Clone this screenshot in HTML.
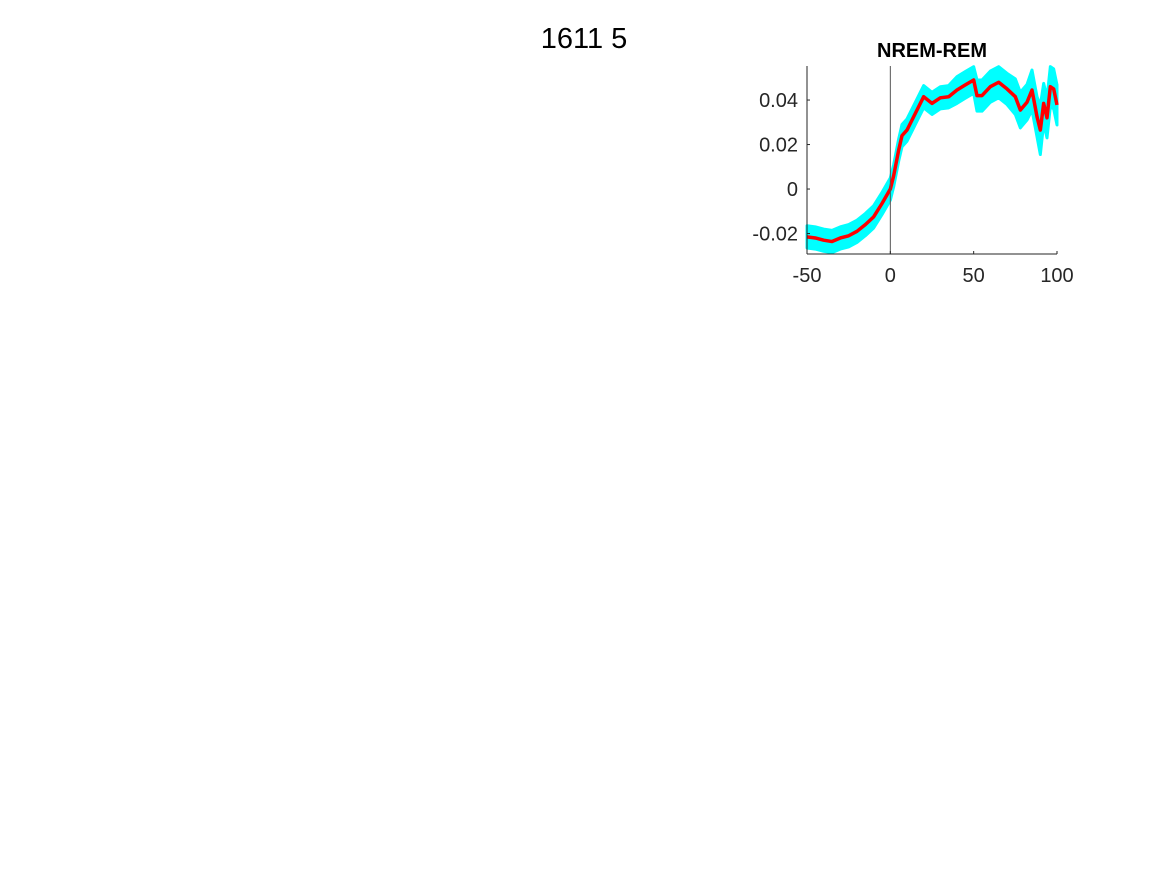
<!DOCTYPE html>
<html><head><meta charset="utf-8"><style>
body{margin:0;background:#fff;width:1167px;height:875px;overflow:hidden;font-family:"Liberation Sans",Arial,sans-serif}
</style></head><body>
<svg width="1167" height="875">
<text x="584" y="48" text-anchor="middle" font-size="29" fill="#000">1611 5</text>
<text x="932" y="57" text-anchor="middle" font-size="20" font-weight="bold" fill="#000">NREM-REM</text>
<g id="plot"></g>
<g id="axes"></g>
</svg>
<script>
const xs=[-50,-45,-40,-35,-30,-25,-20,-15,-10,-5,0,2,5,7,10,15,20,25,30,35,40,45,50,52,55,60,65,70,75,78,82,85,88,90,92,94,96,98,100];
const ys=[-0.0215,-0.022,-0.023,-0.0236,-0.022,-0.021,-0.019,-0.016,-0.0125,-0.0065,0,0.006,0.0175,0.024,0.0265,0.034,0.0415,0.0385,0.041,0.0415,0.0445,0.0468,0.049,0.042,0.042,0.046,0.048,0.045,0.0415,0.0355,0.039,0.0445,0.0325,0.0265,0.0385,0.032,0.046,0.045,0.0378];
const err=[0.005,0.005,0.005,0.005,0.005,0.005,0.005,0.005,0.005,0.005,0.005,0.005,0.005,0.005,0.005,0.005,0.005,0.005,0.005,0.005,0.006,0.006,0.006,0.007,0.007,0.007,0.007,0.007,0.008,0.008,0.008,0.009,0.009,0.011,0.009,0.009,0.009,0.009,0.009];
const xticks=[-50,0,50,100];
const yticks=[-0.02,0,0.02,0.04];
const yLabels=["-0.02","0","0.02","0.04"];
const X0=807,X1=1057,Y0=254,Y1=66,xmin=-50,xmax=100,ymin=-0.0292,ymax=0.0553;
const sx=v=>X0+(v-xmin)/(xmax-xmin)*(X1-X0);
const sy=v=>Math.max(Y1,Math.min(Y0,Y0-(v-ymin)/(ymax-ymin)*(Y0-Y1)));
const NS="http://www.w3.org/2000/svg";
const plot=document.getElementById('plot'),axes=document.getElementById('axes');
function mk(t,a,p){const e=document.createElementNS(NS,t);for(const k in a)e.setAttribute(k,a[k]);p.appendChild(e);return e;}
let up=xs.map((x,i)=>sx(x)+','+sy(ys[i]+err[i])),dn=xs.map((x,i)=>sx(x)+','+sy(ys[i]-err[i])).reverse();
const band=mk('polygon',{points:up.concat(dn).join(' '),fill:'#00ffff',stroke:'#00ffff','stroke-width':3,'stroke-linejoin':'round'},plot);


const line=mk('polyline',{points:xs.map((x,i)=>sx(x)+','+sy(ys[i])).join(' '),fill:'none',stroke:'#ff0000','stroke-width':3.5,'stroke-linejoin':'round'},plot);


const zl=mk('line',{x1:sx(0),x2:sx(0),y1:Y1,y2:Y0,stroke:'#555','stroke-width':1},plot);


mk('line',{x1:X0,x2:X0,y1:Y1,y2:Y0,stroke:'#262626'},axes);
mk('line',{x1:X0,x2:X1,y1:Y0,y2:Y0,stroke:'#262626'},axes);
xticks.forEach(t=>{mk('line',{x1:sx(t),x2:sx(t),y1:Y0,y2:Y0-3,stroke:'#262626'},axes);
const tx=mk('text',{x:sx(t),y:Y0+28,'text-anchor':'middle','font-size':20,fill:'#262626'},axes);tx.textContent=t;

});
yticks.forEach((t,i)=>{mk('line',{x1:X0,x2:X0+3,y1:sy(t),y2:sy(t),stroke:'#262626'},axes);
const tx=mk('text',{x:X0-9,y:sy(t)+7,'text-anchor':'end','font-size':20,fill:'#262626'},axes);tx.textContent=yLabels[i];

});
</script>
</body></html>
